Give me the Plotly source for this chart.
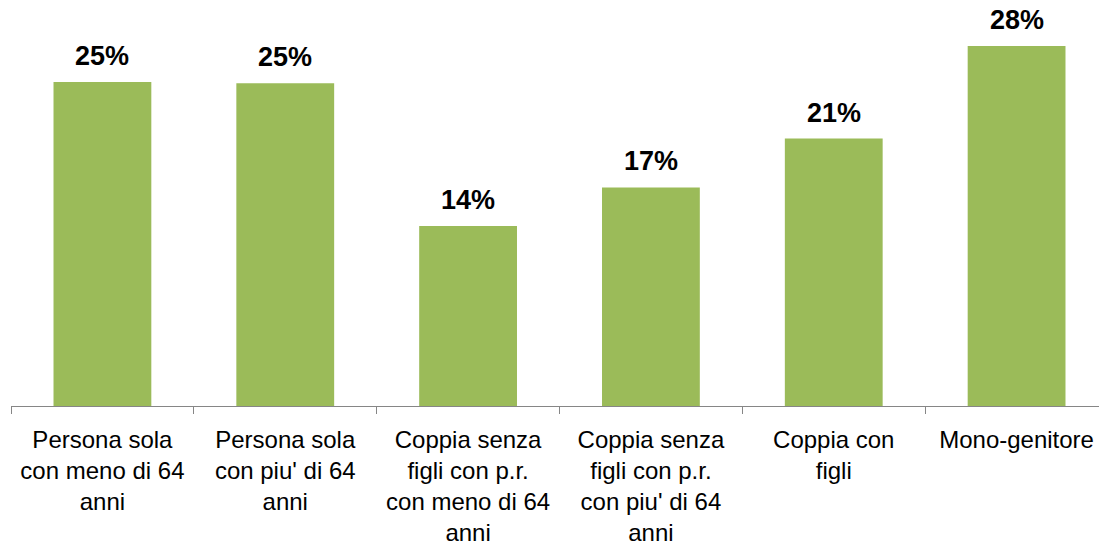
import plotly.graph_objects as go

# Categorie e valori (quota in %)
categorie = [
    "Persona sola<br>con meno di 64<br>anni",
    "Persona sola<br>con piu' di 64<br>anni",
    "Coppia senza<br>figli con p.r.<br>con meno di 64<br>anni",
    "Coppia senza<br>figli con p.r.<br>con piu' di 64<br>anni",
    "Coppia con<br>figli",
    "Mono-genitore",
]
valori = [25.2, 25.1, 14.0, 17.0, 20.8, 28.0]
etichette = ["25%", "25%", "14%", "17%", "21%", "28%"]

fig = go.Figure(go.Bar(
    x=categorie, y=valori,
    marker=dict(color="#9BBB59", line=dict(width=0)),
    hoverinfo="skip",
))

# etichette sopra le barre
for c, v, t in zip(categorie, valori, etichette):
    fig.add_annotation(x=c, y=v, text="<b>%s</b>" % t, showarrow=False,
                       yanchor="bottom", yshift=9,
                       font=dict(family="Liberation Sans, Arial", size=27, color="black"))

# il body html ha un margine di 8px: la figura e' un po' piu' grande della finestra
fig.update_layout(
    width=1115, height=550,
    margin=dict(l=3, r=15, t=4, b=152),
    plot_bgcolor="white", paper_bgcolor="white",
    bargap=0.465,
    showlegend=False,
    font=dict(family="Liberation Sans, Arial", size=24, color="black"),
)
fig.update_xaxes(
    automargin=False,
    showline=True, linecolor="#868686", linewidth=1,
    ticks="outside", tickson="boundaries", ticklen=7, tickcolor="#868686",
    ticklabelstandoff=12,
    showgrid=False, tickfont=dict(size=24, color="black"),
)
fig.update_yaxes(visible=False, range=[0, 30.65])

fig.write_html("out.html")
